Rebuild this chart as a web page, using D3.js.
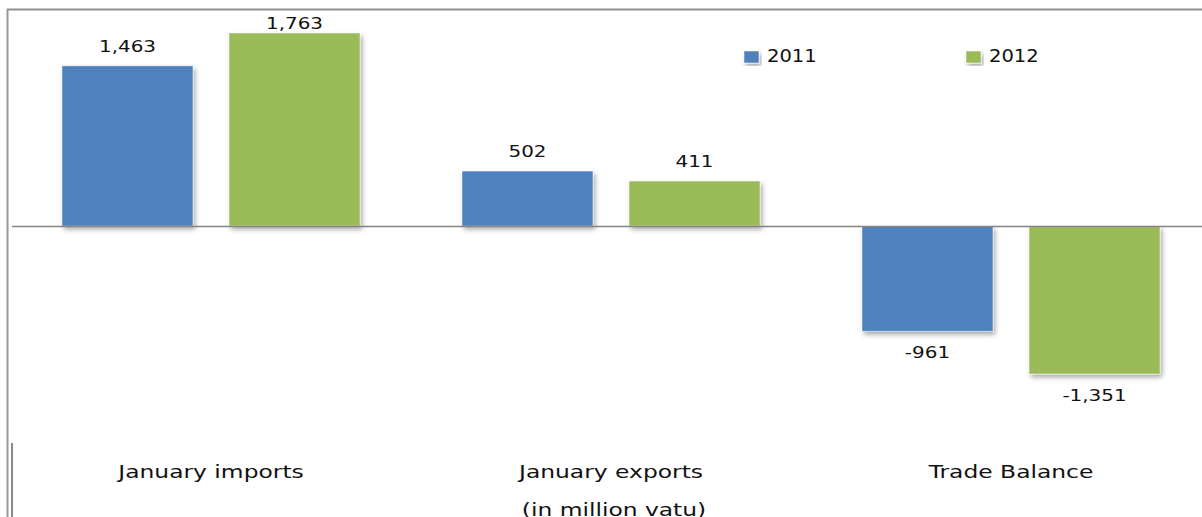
<!DOCTYPE html>
<html>
<head>
<meta charset="utf-8">
<script src="https://cdn.jsdelivr.net/npm/d3@7"></script>
<style>
  body { margin: 0; background: #fff; }
  text { font-family: "DejaVu Sans", sans-serif; fill: #111; }
</style>
</head>
<body>
<div id="chart"></div>
<script>
//chart data
var categories = ["January imports", "January exports", "Trade Balance"];
var seriesNames = ["2011", "2012"];
var values2011 = [1463, 502, -961];
var values2012 = [1763, 411, -1351];
var unitLabel = "(in million vatu)";

var colors = { "2011": "#4F81BD", "2012": "#9BBB59" };

//svg area
var svgWidth = 1202;
var svgHeight = 517;

var svg = d3.select("#chart")
  .append("svg")
  .attr("width", svgWidth)
  .attr("height", svgHeight);

//soft shadow under the bars
var shadow = svg.append("defs").append("filter")
  .attr("id", "shadow")
  .attr("x", "-10%").attr("y", "-10%")
  .attr("width", "130%").attr("height", "130%");
shadow.append("feDropShadow")
  .attr("dx", 2).attr("dy", 3)
  .attr("stdDeviation", 2.5)
  .attr("flood-color", "#000")
  .attr("flood-opacity", 0.35);

//build rows from the arrays
var rows = categories.map(function(c, i) {
  return { category: c, values: [
    { series: "2011", value: values2011[i] },
    { series: "2012", value: values2012[i] }
  ]};
});

//scales
var x0 = d3.scaleBand()
  .domain(categories)
  .range([11, 1211]);

var x1 = d3.scaleBand()
  .domain(seriesNames)
  .range([0, 298])
  .paddingInner(0.216);

var groupOffset = (x0.bandwidth() - 298) / 2;

var allValues = values2011.concat(values2012);
var y = d3.scaleLinear()
  .domain([d3.min(allValues), d3.max(allValues)])
  .range([374, 33]);

//frame lines
svg.append("line")
  .attr("x1", 7).attr("x2", svgWidth)
  .attr("y1", 9.5).attr("y2", 9.5)
  .attr("stroke", "#8f8f8f").attr("stroke-width", 2);
svg.append("line")
  .attr("x1", 7.5).attr("x2", 7.5)
  .attr("y1", 9).attr("y2", svgHeight)
  .attr("stroke", "#9a9a9a").attr("stroke-width", 2);
svg.append("line")
  .attr("x1", 12).attr("x2", 12)
  .attr("y1", 443).attr("y2", svgHeight)
  .attr("stroke", "#8a8a8a").attr("stroke-width", 2);

//helper: horizontally stretched text like the original
function stretchedText(parent, x, yPos, str, size, sx) {
  parent.append("text")
    .attr("transform", `translate(${x}, ${yPos}) scale(${sx}, 1)`)
    .attr("text-anchor", "middle")
    .attr("font-size", size)
    .text(str);
}

//bars
var groups = svg.selectAll(".group")
  .data(rows)
  .enter()
  .append("g")
  .attr("class", "group")
  .attr("transform", d => `translate(${x0(d.category) + groupOffset}, 0)`);

groups.selectAll("rect")
  .data(d => d.values)
  .enter()
  .append("rect")
  .attr("x", d => x1(d.series))
  .attr("y", d => y(Math.max(0, d.value)))
  .attr("width", x1.bandwidth())
  .attr("height", d => Math.abs(y(d.value) - y(0)))
  .attr("fill", d => colors[d.series])
  .attr("stroke", "rgba(255,255,255,0.45)")
  .attr("stroke-width", 1)
  .attr("filter", "url(#shadow)");

//zero line
svg.append("line")
  .attr("x1", 12).attr("x2", svgWidth)
  .attr("y1", Math.round(y(0)) + 0.5).attr("y2", Math.round(y(0)) + 0.5)
  .attr("stroke", "#858585").attr("stroke-width", 1.5);

//value labels (plain hyphen for negatives, like the original)
var fmt = d3.formatLocale({ decimal: ".", thousands: ",", grouping: [3], currency: ["", ""], minus: "-" }).format(",");
groups.each(function(row) {
  var g = d3.select(this);
  row.values.forEach(function(d) {
    var cx = x1(d.series) + x1.bandwidth() / 2;
    var ly = d.value >= 0 ? Math.max(29, y(d.value) - 14) : y(d.value) + 27;
    stretchedText(g, cx, ly, fmt(d.value), 15, 1.33);
  });
});

//category labels
categories.forEach(function(c) {
  stretchedText(svg, x0(c) + x0.bandwidth() / 2, 478, c, 18, 1.3);
});

//unit label (sits at the bottom edge, partly cut as in the original)
stretchedText(svg, 614, 516, unitLabel, 18, 1.3);

//legend
var legendX = [744, 966];
seriesNames.forEach(function(s, i) {
  svg.append("rect")
    .attr("x", legendX[i]).attr("y", 51)
    .attr("width", 15).attr("height", 12)
    .attr("fill", colors[s])
    .attr("stroke", "rgba(255,255,255,0.5)")
    .attr("filter", "url(#shadow)");
  svg.append("text")
    .attr("transform", `translate(${legendX[i] + 23}, 62) scale(1.15, 1)`)
    .attr("font-size", 17)
    .text(s);
});
</script>
</body>
</html>
